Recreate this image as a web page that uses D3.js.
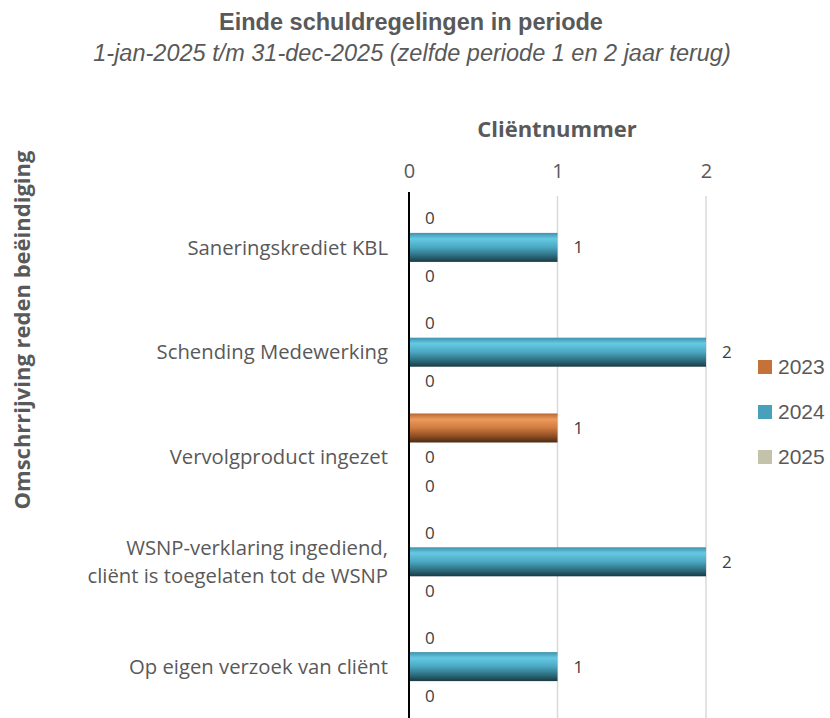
<!DOCTYPE html>
<html><head><meta charset="utf-8">
<script src="https://cdn.jsdelivr.net/npm/d3@7"></script>
<style>body{margin:0;background:#fff}svg{display:block}</style>
</head><body>
<svg id="c" width="830" height="718"></svg>
<script>
const categories = ["Saneringskrediet KBL","Schending Medewerking","Vervolgproduct ingezet","WSNP-verklaring ingediend,\ncliënt is toegelaten tot de WSNP","Op eigen verzoek van cliënt"];
const series = ["2023","2024","2025"];
const values2023 = [0,0,1,0,0];
const values2024 = [1,2,0,2,1];
const values2025 = [0,0,0,0,0];
const xTicks = [0,1,2];
const title = "Einde schuldregelingen in periode";
const subtitle = "1-jan-2025 t/m 31-dec-2025 (zelfde periode 1 en 2 jaar terug)";
const xTitle = "Cliëntnummer";
const yTitle = "Omschrrijving reden beëindiging";

const vals = {"2023":values2023,"2024":values2024,"2025":values2025};
const colors = {"2023":"#C5713A","2024":"#47A1BB","2025":"#C4C2AA"};
const grad = {
  "2023":[["0%","#b8672f"],["20%","#eb9a5e"],["50%","#d07a3e"],["80%","#8a4b22"],["100%","#4a2a14"]],
  "2024":[["0%","#3e92aa"],["20%","#66c9e3"],["50%","#4aa7c1"],["80%","#2c6a7b"],["100%","#1a3a44"]],
  "2025":[["0%","#c4c2aa"],["100%","#a09e88"]]
};

const svg = d3.select("#c");
const defs = svg.append("defs");
series.forEach(s=>{
  const g = defs.append("linearGradient").attr("id","g"+s).attr("x1",0).attr("y1",0).attr("x2",0).attr("y2",1);
  grad[s].forEach(([o,c])=>g.append("stop").attr("offset",o).attr("stop-color",c));
});

const x = d3.scaleLinear().domain([0,2]).range([409,706]);
const y0 = d3.scaleBand().domain(categories).range([195,719]);
const y1 = d3.scaleBand().domain(series).range([0,y0.bandwidth()]).paddingOuter(0.306);

// title
svg.append("text").attr("x",411).attr("y",30).attr("text-anchor","middle")
  .attr("font-family","Liberation Sans, Arial").attr("font-weight","bold").attr("font-size",23.5)
  .attr("fill","#595959").text(title);
svg.append("text").attr("x",412).attr("y",61).attr("text-anchor","middle")
  .attr("font-family","Liberation Sans, Arial").attr("font-style","italic").attr("font-size",23.5)
  .attr("fill","#595959").text(subtitle);

// grid
svg.append("g").selectAll("line").data(xTicks.filter(d=>d>0)).join("line")
  .attr("x1",d=>x(d)).attr("x2",d=>x(d)).attr("y1",196).attr("y2",718)
  .attr("stroke","#d9d9d9").attr("stroke-width",1.5);

// x axis ticks at top
const xa = svg.append("g").attr("transform","translate(0,178)")
  .call(d3.axisTop(x).tickValues(xTicks).tickFormat(d3.format("d")).tickSize(0).tickPadding(0));
xa.select(".domain").remove();
xa.selectAll("text").attr("font-family","Open Sans, sans-serif").attr("font-size",20).attr("fill","#595959");

svg.append("text").attr("x",557).attr("y",137).attr("text-anchor","middle")
  .attr("font-family","Open Sans, sans-serif").attr("font-weight","bold").attr("font-size",22)
  .attr("fill","#595959").text(xTitle);

svg.append("text").attr("transform","translate(30,330) rotate(-90)").attr("text-anchor","middle")
  .attr("font-family","Open Sans, sans-serif").attr("font-weight","bold").attr("font-size",22)
  .attr("fill","#595959").text(yTitle);

// bars
const rows = [];
categories.forEach((c,i)=>series.forEach(s=>rows.push({c,s,v:vals[s][i]})));
const bars = svg.append("g");
bars.selectAll("rect").data(rows).join("rect")
  .attr("x",x(0)).attr("y",d=>y0(d.c)+y1(d.s)).attr("height",y1.bandwidth())
  .attr("width",d=>x(d.v)-x(0)).attr("fill",d=>"url(#g"+d.s+")");
bars.selectAll("text").data(rows).join("text")
  .attr("x",d=>x(d.v)+16).attr("y",d=>y0(d.c)+y1(d.s)+y1.bandwidth()/2).attr("dy","0.35em")
  .attr("font-family","Open Sans, sans-serif").attr("font-size",17).attr("fill","#404040")
  .text(d=>d.v);

// y axis line
svg.append("line").attr("x1",409).attr("x2",409).attr("y1",192).attr("y2",718)
  .attr("stroke","#000").attr("stroke-width",2);

// category labels
const cl = svg.append("g").selectAll("text").data(categories).join("text")
  .attr("x",388).attr("text-anchor","end")
  .attr("font-family","Open Sans, sans-serif").attr("font-size",20.3).attr("fill","#595959");
cl.each(function(d){
  const lines = d.split("\n");
  const cy = y0(d)+y0.bandwidth()/2;
  const el = d3.select(this);
  lines.forEach((t,i)=>{
    el.append("tspan").attr("x",388).attr("y",cy + (i-(lines.length-1)/2)*28).attr("dy","0.35em").text(t);
  });
});

// legend
const lg = svg.append("g").selectAll("g").data(series).join("g")
  .attr("transform",(d,i)=>`translate(758,${367+i*45})`);
lg.append("rect").attr("x",0).attr("y",-7).attr("width",14).attr("height",14).attr("fill",d=>colors[d]);
lg.append("text").attr("x",20).attr("dy","0.35em").attr("font-family","Liberation Sans, Arial")
  .attr("font-size",21).attr("fill","#595959").text(d=>d);
</script>
</body></html>
